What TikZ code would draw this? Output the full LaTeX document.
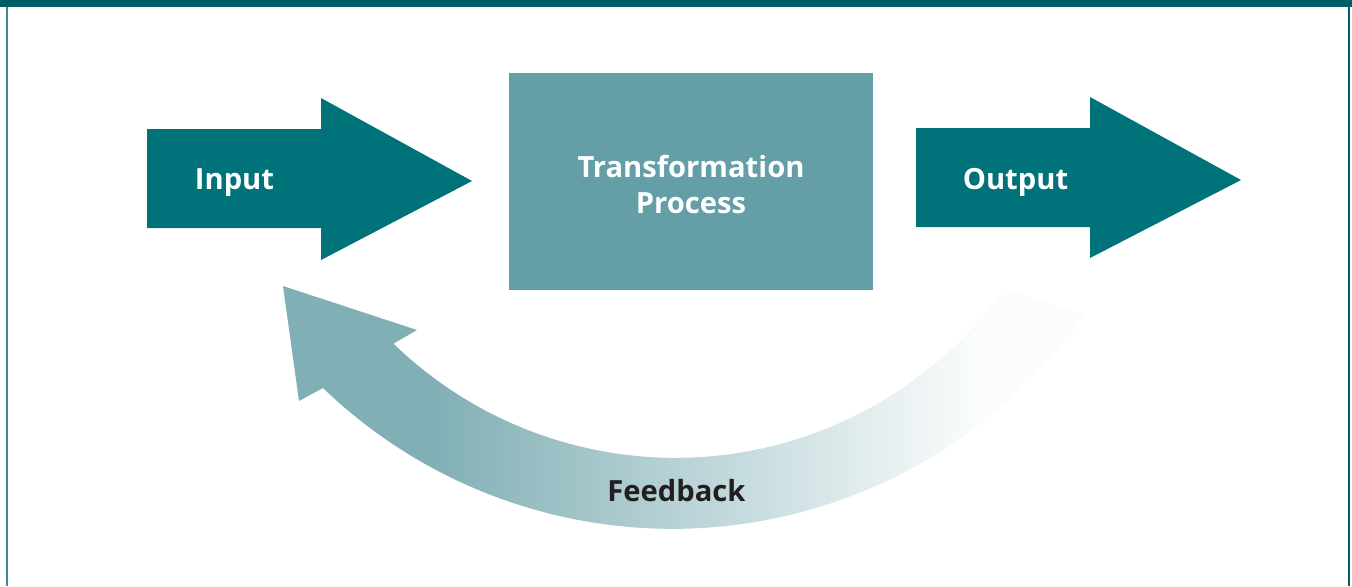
\documentclass[tikz,border=0pt]{standalone}
\usepackage{fontspec}
\setmainfont{Open Sans}
\definecolor{tealdark}{HTML}{00727A}
\definecolor{tealband}{HTML}{005E68}
\definecolor{tealframe}{HTML}{3F8A92}
\definecolor{tealbox}{HTML}{649EA6}
\definecolor{tealfeed}{HTML}{80AFB5}
\definecolor{textdark}{HTML}{231F20}
\tikzset{
  bigarrow/.style={fill=tealdark},
  arrowtext/.style={text=white, anchor=base, font=\fontsize{16.6}{20}\selectfont\bfseries},
  procbox/.style={fill=tealbox, inner sep=0pt, minimum width=7.28cm, minimum height=4.34cm},
  proctext/.style={text=white, align=center, inner sep=0pt, font=\fontsize{16.6}{20.3}\selectfont\bfseries},
  feedtext/.style={text=textdark, anchor=base, font=\fontsize{16.6}{20}\selectfont\bfseries}
}

\begin{document}
\begin{tikzpicture}[x=0.02cm,y=-0.02cm]
  \useasboundingbox (0,0) rectangle (1352,586);
  \fill [tealband] (0,0) rectangle (1352,7);
  \draw [tealframe, line width=0.04cm] (7,7) -- (7,586);
  \draw [tealband, line width=0.04cm] (1349,7) -- (1349,586);

  \fill [bigarrow] (147,129) -- (321,129) -- (321,98) -- (472,181) -- (321,260) -- (321,228) -- (147,228) -- cycle;
  \node [arrowtext] (input) at (234.5,189) {Input};

  \node [procbox] (process) at (691,181.5) {};
  \node [proctext] (proclabel) at ([yshift=-0.06cm]process.center) {Transformation\\Process};

  \fill [bigarrow] (916,128) -- (1090,128) -- (1090,97) -- (1241,180) -- (1090,258) -- (1090,227) -- (916,227) -- cycle;
  \node [arrowtext] (output) at (1015.5,189) {Output};

  \begin{scope}
    \clip (323,388) arc [start angle=133.9, end angle=35.2, radius=504]
      -- (1005,288) arc [start angle=35.5, end angle=134.1, radius=405]
      -- (417,330) -- (283,286) -- (299,401) -- cycle;
    \fill [tealfeed] (270,270) rectangle (430,540);
    \shade [left color=tealfeed, right color=tealfeed!3] (430,270) rectangle (980,540);
    \fill [tealfeed!3] (980,270) rectangle (1100,540);
  \end{scope}
  \node [feedtext] (feedback) at (676.5,501) {Feedback};
\end{tikzpicture}
\end{document}
